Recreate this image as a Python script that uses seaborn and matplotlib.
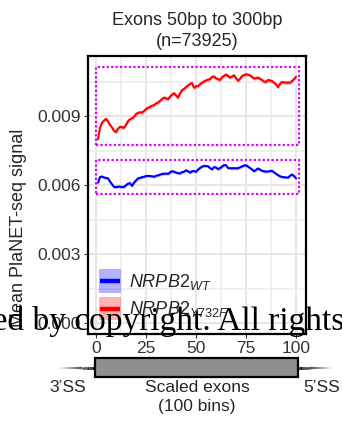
import numpy as np
import pandas as pd
import matplotlib
matplotlib.use("Agg")
import matplotlib.pyplot as plt
import seaborn as sns
from matplotlib.patches import Rectangle, Patch
from matplotlib.lines import Line2D
from matplotlib.collections import LineCollection
from matplotlib.ticker import MultipleLocator

# ---- data: mean PlaNET-seq signal per scaled exon bin (x 1e-3) ----
bins = list(range(1, 101))

wt_signal = [
    6.10, 6.35, 6.37, 6.33, 6.31, 6.29, 6.15, 6.03, 5.92, 5.91,
    5.93, 5.93, 5.91, 5.92, 5.99, 6.06, 6.08, 5.96, 6.10, 6.20,
    6.29, 6.31, 6.34, 6.36, 6.39, 6.40, 6.39, 6.38, 6.36, 6.40,
    6.42, 6.45, 6.48, 6.49, 6.50, 6.48, 6.55, 6.60, 6.58, 6.54,
    6.52, 6.50, 6.56, 6.58, 6.64, 6.60, 6.54, 6.60, 6.61, 6.57,
    6.67, 6.74, 6.80, 6.83, 6.83, 6.82, 6.74, 6.68, 6.78, 6.76,
    6.69, 6.74, 6.80, 6.87, 6.86, 6.74, 6.73, 6.73, 6.73, 6.73,
    6.73, 6.77, 6.81, 6.85, 6.86, 6.80, 6.74, 6.68, 6.60, 6.66,
    6.72, 6.67, 6.62, 6.60, 6.58, 6.59, 6.61, 6.62, 6.55, 6.49,
    6.43, 6.38, 6.35, 6.34, 6.33, 6.32, 6.40, 6.46, 6.39, 6.29,
]

mut_signal = [
    7.99, 8.49, 8.71, 8.80, 8.88, 8.76, 8.62, 8.50, 8.36, 8.30,
    8.45, 8.53, 8.51, 8.49, 8.62, 8.78, 8.86, 8.90, 8.97, 9.08,
    9.14, 9.16, 9.15, 9.22, 9.30, 9.36, 9.40, 9.45, 9.47, 9.55,
    9.58, 9.66, 9.74, 9.80, 9.77, 9.73, 9.84, 9.93, 9.99, 9.90,
    9.80, 9.98, 10.12, 10.18, 10.26, 10.33, 10.40, 10.43, 10.23, 10.30,
    10.30, 10.38, 10.45, 10.50, 10.55, 10.58, 10.60, 10.70, 10.72, 10.64,
    10.60, 10.57, 10.68, 10.75, 10.80, 10.75, 10.67, 10.72, 10.77, 10.65,
    10.53, 10.62, 10.74, 10.78, 10.81, 10.80, 10.77, 10.70, 10.63, 10.65,
    10.67, 10.62, 10.57, 10.50, 10.48, 10.57, 10.54, 10.52, 10.45, 10.38,
    10.25, 10.40, 10.48, 10.46, 10.45, 10.45, 10.45, 10.52, 10.60, 10.71,
]

# standard error of the mean (x 1e-3), used for the ribbons
wt_se = 0.06
mut_se = 0.08

genotypes = ["WT", "Y732F"]
legend_labels = [r"$\mathit{NRPB2}_{\mathit{WT}}$", r"$\mathit{NRPB2}_{\mathit{Y732F}}$"]
colors = {"WT": "#0000FF", "Y732F": "#FF0000"}

y_ticks = [0.0, 0.003, 0.006, 0.009]
x_ticks = [0, 25, 50, 75, 100]

# highlighted regions (x0, x1, y0, y1) in data units
boxes = [(0.2, 101.5, 0.00774, 0.01113), (0.2, 101.5, 0.00560, 0.00709)]

df = pd.DataFrame({
    "bin": bins * 2,
    "signal": np.array(wt_signal + mut_signal) * 1e-3,
    "se": [wt_se * 1e-3] * 100 + [mut_se * 1e-3] * 100,
    "genotype": ["WT"] * 100 + ["Y732F"] * 100,
})


class RibbonKey:
    """Legend key: translucent fill square with the mean line across it."""

    def legend_artist(self, legend, orig_handle, fontsize, handlebox):
        x0, y0 = -handlebox.xdescent, -handlebox.ydescent
        w, h = handlebox.width, handlebox.height
        c = orig_handle.get_facecolor()[:3]
        rect = Rectangle((x0, y0), w, h, facecolor=c, alpha=0.3, lw=0,
                         transform=handlebox.get_transform())
        line = Line2D([x0 + 0.06 * w, x0 + 0.94 * w], [y0 + h / 2] * 2,
                      color=c, lw=3.2, solid_capstyle="butt",
                      transform=handlebox.get_transform())
        handlebox.add_artist(rect)
        handlebox.add_artist(line)
        return rect


# ---- style ----
sns.set_style("white")
plt.rcParams["font.family"] = ["Liberation Sans", "DejaVu Sans"]
plt.rcParams["mathtext.fontset"] = "custom"
plt.rcParams["mathtext.it"] = "Liberation Sans:italic"
plt.rcParams["mathtext.rm"] = "Liberation Sans"

W, H = 342, 424
fig = plt.figure(figsize=(W / 100, H / 100), dpi=100)
ax = fig.add_axes([88 / W, 1 - 334 / H, 218 / W, 278 / H])

for g in genotypes:
    d = df[df["genotype"] == g]
    ax.fill_between(d["bin"], d["signal"] - d["se"], d["signal"] + d["se"],
                    color=colors[g], alpha=0.3, lw=0, zorder=2)
sns.lineplot(data=df, x="bin", y="signal", hue="genotype", palette=colors,
             hue_order=genotypes, lw=1.5, ax=ax, legend=False, zorder=3,
             errorbar=None)

for x0, x1, y0, y1 in boxes:
    ax.add_patch(Rectangle((x0, y0), x1 - x0, y1 - y0, fill=False,
                           edgecolor="#DD00FF", lw=1.6, ls=(0, (1, 1)), zorder=4))

ax.set_xlim(-4, 105)
ax.set_ylim(-0.000478, 0.01161)
ax.set_xticks(x_ticks)
ax.set_xticklabels([str(t) for t in x_ticks])
ax.set_yticks(y_ticks)
ax.set_yticklabels([f"{t:.3f}" for t in y_ticks])
ax.xaxis.set_minor_locator(MultipleLocator(12.5))
ax.yaxis.set_minor_locator(MultipleLocator(0.0015))
ax.grid(which="major", color="#E6E6E6", lw=1.4, zorder=0)
ax.grid(which="minor", color="#EBEBEB", lw=1.1, zorder=0)
ax.set_axisbelow(True)
ax.tick_params(which="major", length=3, width=0.8, color="#333333",
               labelsize=12.5, labelcolor="#333333", pad=2,
               bottom=True, left=True)
ax.tick_params(which="minor", length=0)
for s in ax.spines.values():
    s.set_color("black")
    s.set_linewidth(1.6)
ax.set_xlabel("")
ax.set_ylabel("")

ax.set_title("Exons 50bp to 300bp\n(n=73925)", fontsize=13, pad=7,
             linespacing=1.3)
fig.text(19 / W, 1 - 228 / H, "Mean PlaNET-seq signal", rotation=90,
         ha="center", va="center", fontsize=13)

handles = [Patch(facecolor=colors[g]) for g in genotypes]
ax.legend(handles, legend_labels, handler_map={Patch: RibbonKey()},
          loc="lower left", bbox_to_anchor=(0.05, 0.05), frameon=False,
          fontsize=13, handlelength=1.22, handleheight=1.59, labelspacing=0.25,
          handletextpad=0.45, borderpad=0, borderaxespad=0)

# ---- exon schematic below the axis ----
ax2 = fig.add_axes([88 / W, 0, 218 / W, 74 / H])
ax2.set_xlim(-4, 105)
ax2.set_ylim(424, 350)
ax2.axis("off")
ax2.add_patch(Rectangle((-0.5, 358), 101.5, 19, facecolor="#8F8F8F",
                        edgecolor="black", lw=1.6, clip_on=False))
for xa, xb in [(-0.5, -19), (101, 118.5)]:
    xs = np.linspace(xa, xb, 30)
    segs = [[(xs[i], 367.5), (xs[i + 1], 367.5)] for i in range(len(xs) - 1)]
    alphas = np.linspace(1, 0.05, len(segs))
    lc = LineCollection(segs, colors=[(0, 0, 0, a) for a in alphas],
                        linewidths=np.linspace(2.2, 1.0, len(segs)), clip_on=False)
    ax2.add_collection(lc)
ax2.text(-14, 388, "3\u2019SS", ha="center", va="center", fontsize=12.5, clip_on=False)
ax2.text(113, 388, "5\u2019SS", ha="center", va="center", fontsize=12.5, clip_on=False)
ax2.text(50.5, 388, "Scaled exons", ha="center", va="center", fontsize=12.5)
ax2.text(50.5, 407, "(100 bins)", ha="center", va="center", fontsize=12.5)

# ---- copyright notice overlay ----
notice = "This article is protected by copyright. All rights reserved."
lead = "This article is protected by "
serif = ["Liberation Serif", "DejaVu Serif"]
fs_notice = 24
fig.canvas.draw()
r = fig.canvas.get_renderer()
t1 = fig.text(0, 0, lead + "c", fontsize=fs_notice, family=serif)
t2 = fig.text(0, 0, "c", fontsize=fs_notice, family=serif)
offset = t1.get_window_extent(r).width - t2.get_window_extent(r).width
t1.remove()
t2.remove()
fig.text((74 - offset) / W, 1 - 330 / H, notice, fontsize=fs_notice, family=serif,
         ha="left", va="baseline", color="black", zorder=10)

fig.savefig("out.png", dpi=100)
